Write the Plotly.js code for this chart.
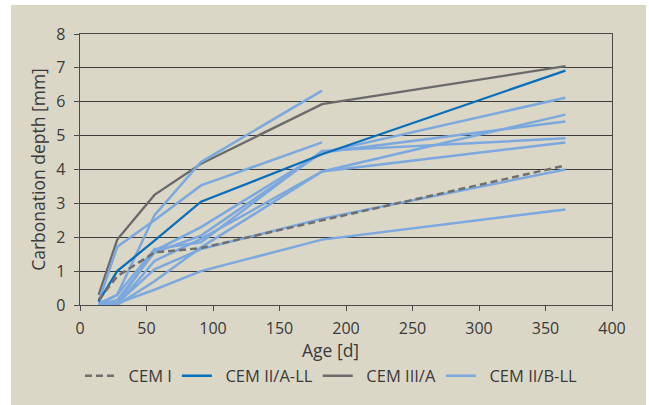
<!DOCTYPE html>
<html>
<head>
<meta charset="utf-8">
<script src="https://cdn.plot.ly/plotly-3.0.1.min.js"></script>
<style>
  html, body { margin: 0; padding: 0; background: #ffffff; width: 649px; height: 405px; overflow: hidden; }
  #chart { position: absolute; left: 11px; top: 5px; width: 635px; height: 400px; }
</style>
</head>
<body>
<div id="chart"></div>
<script>
// Ages in days
const ages = [14, 28, 56, 91, 182, 365];

// Carbonation depth [mm]
const cemI    = [0.15, 0.85, 1.55, 1.68, 2.50, 4.12];
const cemIIA  = [0.10, 1.00, 1.90, 3.05, 4.45, 6.92];
const cemIIIA = [0.30, 1.93, 3.25, 4.17, 5.93, 7.05];

// CEM II/B-LL series
const bllA = [0.10, 1.72, 2.50, 3.53, 4.80, null];
const bllB = [0.00, 0.30, 2.65, 4.22, 6.33, null];
const bllC = [0.00, 0.05, 1.60, 2.30, 4.50, 6.12];
const bllD = [0.00, 0.15, 1.55, 2.05, 4.50, 5.42];
const bllE = [0.05, 0.30, 1.65, 1.85, 4.55, 4.92];
const bllF = [0.00, 0.00, 1.30, 1.95, 3.94, 5.62];
const bllG = [0.00, 0.00, 0.70, 1.70, 3.94, 4.80];
const bllH = [0.00, 0.05, 1.05, 1.65, 2.55, 4.00];
const bllI = [0.00, 0.05, 0.45, 1.00, 1.93, 2.82];
const bllSeries = [bllA, bllB, bllC, bllD, bllE, bllF, bllG, bllH, bllI];

const names = ['CEM I', 'CEM II/A-LL', 'CEM III/A', 'CEM II/B-LL'];
const xTitle = 'Age [d]';
const yTitle = 'Carbonation depth [mm]';

const lightBlue = '#7ba8de';
const darkBlue = '#0a6fba';
const gray = '#6a6a6a';
const dashGray = '#6f6f6f';

// small gap between legend sample and its text
const pad = '\u00a0\u00a0';

const traces = [];

traces.push({
  x: ages, y: cemIIIA, type: 'scatter', mode: 'lines', name: pad + names[2],
  line: { color: gray, width: 2.3 }, legendrank: 3
});

bllSeries.forEach((s, i) => {
  traces.push({
    x: ages, y: s, type: 'scatter', mode: 'lines', name: pad + names[3],
    legendgroup: 'bll', showlegend: i === 0, legendrank: 4,
    line: { color: lightBlue, width: 2.5 }
  });
});

traces.push({
  x: ages, y: cemIIA, type: 'scatter', mode: 'lines', name: pad + names[1],
  line: { color: darkBlue, width: 2.3 }, legendrank: 2
});

traces.push({
  x: ages, y: cemI, type: 'scatter', mode: 'lines', name: pad + names[0],
  line: { color: dashGray, width: 2.5, dash: '7px,4px' }, legendrank: 1
});

const textColor = '#3a3a3a';
const fontFam = '"Open Sans", "Noto Sans", sans-serif';

const layout = {
  width: 635, height: 400,
  margin: { l: 69, r: 34, t: 29, b: 98 },
  paper_bgcolor: '#dad7c6',
  plot_bgcolor: '#dad7c6',
  font: { family: fontFam, color: textColor, size: 16 },
  showlegend: true,
  legend: {
    orientation: 'h', x: 0, xanchor: 'left', y: -0.262, yanchor: 'middle',
    font: { size: 16.5, color: textColor }, bgcolor: 'rgba(0,0,0,0)',
    traceorder: 'normal', itemwidth: 30, tracegroupgap: 0
  },
  annotations: [{
    text: xTitle, xref: 'paper', yref: 'paper', x: 0.47, y: -0.165,
    xanchor: 'center', yanchor: 'middle', showarrow: false,
    font: { size: 17.5, color: textColor }
  }],
  xaxis: {
    range: [0, 400], dtick: 50, tick0: 0,
    showgrid: false, zeroline: false,
    showline: true, linecolor: '#4a4a4a', linewidth: 1.3, mirror: true,
    ticks: 'outside', ticklen: 5, tickcolor: '#4a4a4a', tickwidth: 1,
    ticklabelstandoff: 3,
    tickfont: { size: 16, color: textColor }
  },
  yaxis: {
    range: [0, 8], dtick: 1, tick0: 0,
    showgrid: true, gridcolor: '#3c3c3c', gridwidth: 1.2, zeroline: false,
    showline: true, linecolor: '#4a4a4a', linewidth: 1.3, mirror: true,
    ticks: 'outside', ticklen: 5, tickcolor: '#4a4a4a', tickwidth: 1,
    ticklabelstandoff: 5,
    tickfont: { size: 16, color: textColor },
    title: { text: yTitle, font: { size: 17.5, color: textColor }, standoff: 6 }
  }
};

Plotly.newPlot('chart', traces, layout, { displayModeBar: false, staticPlot: true });
</script>
</body>
</html>
